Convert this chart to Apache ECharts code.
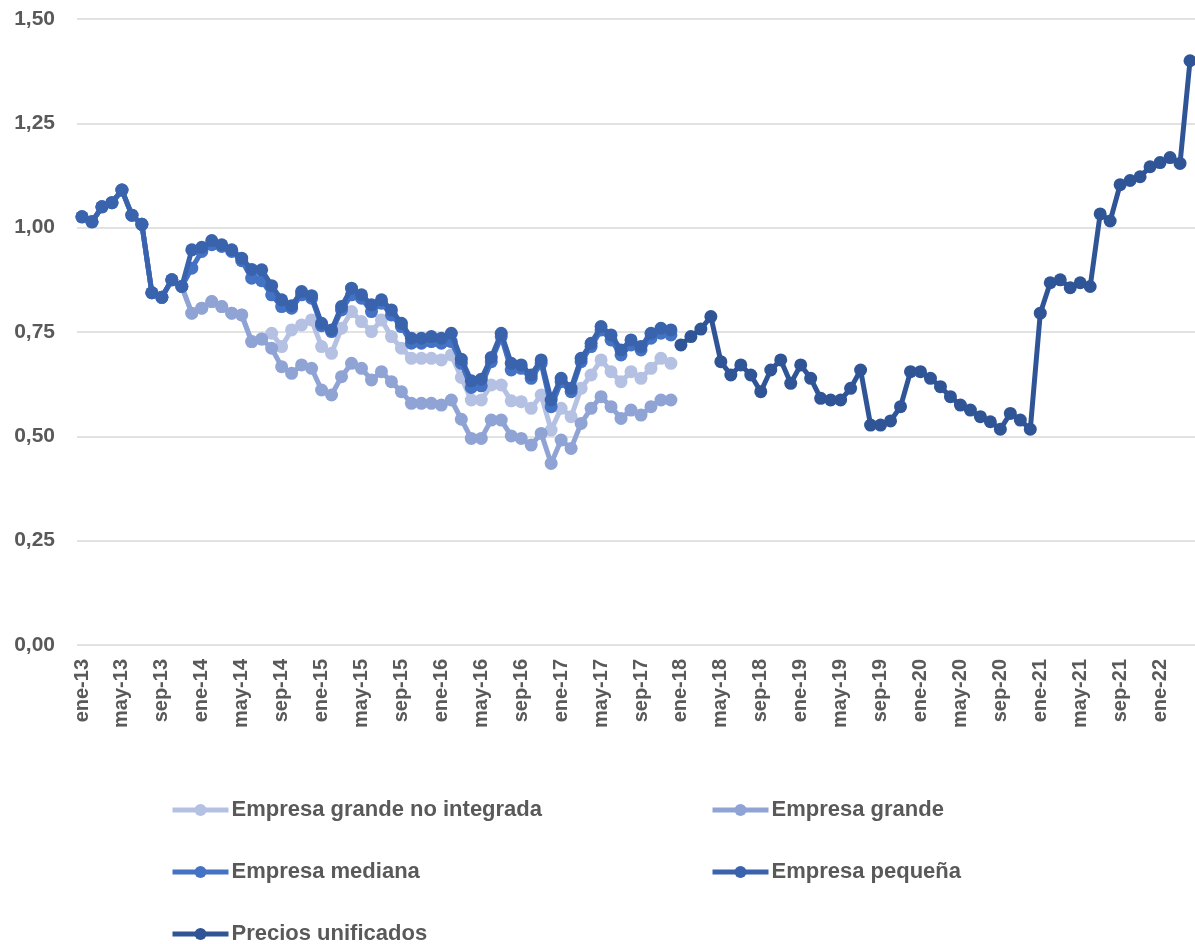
<!DOCTYPE html>
<html>
<head>
<meta charset="utf-8">
<script src="https://cdn.jsdelivr.net/npm/echarts@6/dist/echarts.min.js"></script>
<style>
  html, body { margin: 0; padding: 0; background: #fff; }
  #chart { width: 1195px; height: 944px; }
</style>
</head>
<body>
<div id="chart"></div>
<script>
// etiquetas del eje x: ene-13 ... abr-22
const meses = ['ene', 'feb', 'mar', 'abr', 'may', 'jun', 'jul', 'ago', 'sep', 'oct', 'nov', 'dic'];
const anios = ['13', '14', '15', '16', '17', '18', '19', '20', '21', '22'];
const numMeses = 112;

// ticks del eje y
const yTicks = [0, 0.25, 0.5, 0.75, 1.0, 1.25, 1.5];

// ene-13 .. nov-13 (comun a las cuatro empresas)
const inicio = [1.026, 1.014, 1.050, 1.060, 1.090, 1.030, 1.008, 0.844, 0.833, 0.875, 0.859];

// dic-13 .. dic-17
const grandeNoIntegrada = [
  0.795, 0.807, 0.823, 0.811, 0.795, 0.791, 0.727, 0.733, 0.747, 0.715,
  0.755, 0.767, 0.779, 0.715, 0.699, 0.759, 0.799, 0.775, 0.751, 0.779,
  0.739, 0.711, 0.687, 0.687, 0.687, 0.683, 0.695, 0.641, 0.587, 0.587,
  0.623, 0.623, 0.585, 0.583, 0.567, 0.599, 0.515, 0.567, 0.547, 0.615,
  0.647, 0.683, 0.655, 0.631, 0.655, 0.639, 0.663, 0.687, 0.675
];
const grande = [
  0.795, 0.807, 0.823, 0.811, 0.795, 0.791, 0.727, 0.733, 0.711, 0.667,
  0.651, 0.671, 0.663, 0.611, 0.599, 0.643, 0.675, 0.663, 0.635, 0.655,
  0.631, 0.607, 0.579, 0.579, 0.579, 0.575, 0.587, 0.541, 0.495, 0.495,
  0.539, 0.539, 0.501, 0.495, 0.479, 0.507, 0.435, 0.491, 0.471, 0.531,
  0.567, 0.595, 0.571, 0.543, 0.563, 0.551, 0.571, 0.587, 0.587
];
const mediana = [
  0.903, 0.943, 0.959, 0.955, 0.943, 0.921, 0.879, 0.873, 0.839, 0.811,
  0.807, 0.839, 0.831, 0.765, 0.751, 0.803, 0.839, 0.831, 0.799, 0.819,
  0.791, 0.763, 0.723, 0.723, 0.727, 0.723, 0.727, 0.675, 0.617, 0.621,
  0.679, 0.739, 0.659, 0.663, 0.639, 0.675, 0.571, 0.631, 0.607, 0.679,
  0.715, 0.755, 0.731, 0.695, 0.719, 0.707, 0.735, 0.747, 0.743
];
const pequena = [
  0.947, 0.953, 0.969, 0.959, 0.947, 0.927, 0.900, 0.899, 0.861, 0.827,
  0.813, 0.847, 0.837, 0.771, 0.755, 0.811, 0.855, 0.839, 0.815, 0.827,
  0.803, 0.771, 0.735, 0.735, 0.739, 0.735, 0.747, 0.685, 0.633, 0.637,
  0.689, 0.747, 0.675, 0.671, 0.647, 0.683, 0.587, 0.639, 0.615, 0.687,
  0.723, 0.763, 0.743, 0.707, 0.731, 0.715, 0.747, 0.759, 0.755
];

// ene-18 .. abr-22
const preciosUnificados = [
  0.719, 0.739, 0.757, 0.787, 0.679, 0.647, 0.671, 0.647, 0.607, 0.659,
  0.683, 0.627, 0.671, 0.639, 0.591, 0.587, 0.587, 0.615, 0.659, 0.527,
  0.527, 0.537, 0.571, 0.655, 0.655, 0.639, 0.619, 0.595, 0.575, 0.563,
  0.547, 0.535, 0.517, 0.555, 0.539, 0.517, 0.795, 0.868, 0.875, 0.856,
  0.868, 0.859, 1.033, 1.016, 1.103, 1.113, 1.122, 1.146, 1.156, 1.168,
  1.154, 1.400
];

const nombres = ['Empresa grande no integrada', 'Empresa grande', 'Empresa mediana', 'Empresa pequeña', 'Precios unificados'];
const colores = ['#b4c1e3', '#8fa4d5', '#4472c4', '#3a63ad', '#2f5597'];

// construir categorias
const categorias = [];
for (let i = 0; i < numMeses; i++) {
  categorias.push(meses[i % 12] + '-' + anios[Math.floor(i / 12)]);
}

// rellenar con null hasta el final
function completar (valores) {
  const out = valores.slice();
  while (out.length < numMeses) out.push(null);
  return out;
}

const datos = [
  completar(inicio.concat(grandeNoIntegrada)),
  completar(inicio.concat(grande)),
  completar(inicio.concat(mediana)),
  completar(inicio.concat(pequena)),
  new Array(numMeses - preciosUnificados.length).fill(null).concat(preciosUnificados)
];

const fuente = 'Liberation Sans, Arial, sans-serif';
const gris = '#595959';

// leyenda en dos columnas
const posLeyenda = [[170, 799], [710, 799], [170, 861], [710, 861], [170, 923]];
const legends = nombres.map((n, i) => ({
  data: [n],
  left: posLeyenda[i][0],
  top: posLeyenda[i][1],
  padding: 0,
  itemWidth: 56,
  itemHeight: 15,
  itemGap: 0,
  lineStyle: { width: 5 },
  textStyle: { fontFamily: fuente, fontWeight: 'bold', fontSize: 22, color: gris, padding: [0, 0, 0, -2] }
}));

const chart = echarts.init(document.getElementById('chart'));
const option = {
  animation: false,
  backgroundColor: '#fff',
  legend: legends,
  grid: { left: 77, right: -7, top: 19, bottom: 299, containLabel: false },
  xAxis: {
    type: 'category',
    data: categorias,
    boundaryGap: true,
    axisLine: { show: false },
    axisTick: { show: false },
    axisLabel: {
      interval: 3,
      rotate: 90,
      margin: 14,
      fontFamily: fuente,
      fontWeight: 'bold',
      fontSize: 20,
      color: gris
    }
  },
  yAxis: {
    type: 'value',
    min: yTicks[0],
    max: yTicks[yTicks.length - 1],
    interval: 0.25,
    axisLine: { show: false },
    axisTick: { show: false },
    splitLine: { lineStyle: { color: '#d9d9d9', width: 1.5 } },
    axisLabel: {
      margin: 22,
      fontFamily: fuente,
      fontWeight: 'bold',
      fontSize: 21,
      color: gris,
      formatter: v => v.toFixed(2).replace('.', ',')
    }
  },
  series: nombres.map((n, i) => ({
    name: n,
    type: 'line',
    data: datos[i],
    symbol: 'circle',
    symbolSize: 13,
    showAllSymbol: true,
    lineStyle: { width: 5, color: colores[i] },
    itemStyle: { color: colores[i] },
    z: 2 + i
  }))
};
chart.setOption(option);
</script>
</body>
</html>
